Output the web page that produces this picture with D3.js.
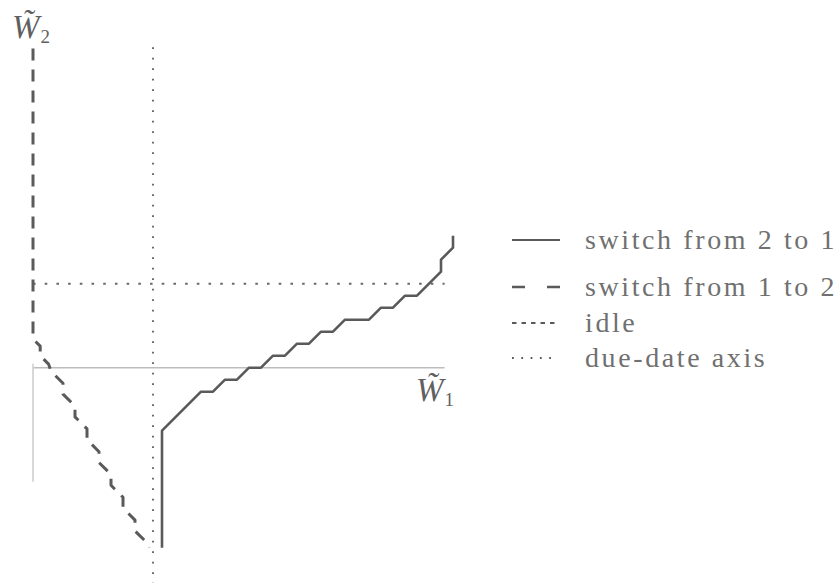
<!DOCTYPE html>
<html>
<head>
<meta charset="utf-8">
<script src="https://cdn.jsdelivr.net/npm/d3@7"></script>
<style>
  html, body { margin: 0; padding: 0; background: #ffffff; }
  svg { display: block; }
</style>
</head>
<body>
<svg id="chart" width="838" height="583"></svg>
<script>
// Switching curves in the (W1, W2) workload plane.

// "switch from 2 to 1" boundary (solid staircase)
const switch21W1 = [10.75, 10.75, 14, 15, 16, 17, 18, 19, 20, 21, 22, 23, 24, 25, 26, 28, 29, 30, 31, 32, 34, 34, 35, 35];
const switch21W2 = [-15, -5.25, -2, -2, -1, -1, 0, 0, 1, 1, 2, 2, 3, 3, 4, 4, 5, 5, 6, 6, 8, 9, 10, 11];

// "switch from 1 to 2" boundary (dashed staircase)
const switch12W1 = [0, 0, 0.6, 0.6, 1.3, 1.5, 2.5, 2.5, 3.5, 3.5, 4.5, 4.5, 5.5, 5.5, 6.5, 6.5, 7.5, 7.5, 8.5, 8.5, 9.5, 9.7];
const switch12W2 = [26.6, 2.4, 1.8, 1.0, 0.3, -0.3, -1.3, -2.2, -3.2, -4.1, -5.1, -6.0, -7.0, -7.9, -8.9, -9.8, -10.8, -11.7, -12.7, -13.6, -14.6, -15.0];

// idle level (horizontal) and due-date axis position (vertical)
const idleW2 = 7;
const idleW1Range = [0, 34.3];
const dueDateW1 = 10;
const dueDateW2Range = [-18, 26.7];

// workload axes
const axisW1Range = [0, 34.3];
const axisW2Below = [0, -9.5];

// legend entries
const legendLabels = ["switch from 2 to 1", "switch from 1 to 2", "idle", "due-date axis"];
const legendStyles = ["solid", "dashed", "idle", "due"];

const svg = d3.select("#chart");
const ink = "#5a5a5a";

const x = d3.scaleLinear().domain([0, 34]).range([33, 33 + 34 * 12]);
const y = d3.scaleLinear().domain([0, 27]).range([367.7, 367.7 - 27 * 12]);

const line = d3.line().x(d => x(d[0])).y(d => y(d[1]));

// faint axes
svg.append("line")
  .attr("x1", x(axisW1Range[0])).attr("x2", x(axisW1Range[1]))
  .attr("y1", y(0)).attr("y2", y(0))
  .attr("stroke", "#bdbdbd").attr("stroke-width", 1.6);
svg.append("line")
  .attr("x1", x(0)).attr("x2", x(0))
  .attr("y1", y(axisW2Below[0]) - 4).attr("y2", y(axisW2Below[1]))
  .attr("stroke", "#cfcfcf").attr("stroke-width", 1.6);

// due-date axis
svg.append("line")
  .attr("x1", x(dueDateW1)).attr("x2", x(dueDateW1))
  .attr("y1", y(dueDateW2Range[1])).attr("y2", y(dueDateW2Range[0]))
  .attr("stroke", "#6a6a6a").attr("stroke-width", 2)
  .attr("stroke-dasharray", "1.8 8.7");

// idle line
svg.append("line")
  .attr("x1", x(idleW1Range[0])).attr("x2", x(idleW1Range[1]))
  .attr("y1", y(idleW2)).attr("y2", y(idleW2))
  .attr("stroke", "#6a6a6a").attr("stroke-width", 2)
  .attr("stroke-dasharray", "2.6 9.1");

// switch from 1 to 2
svg.append("path")
  .datum(switch12W1.map((v, i) => [v, switch12W2[i]]))
  .attr("d", line)
  .attr("fill", "none").attr("stroke", ink).attr("stroke-width", 3)
  .attr("stroke-linejoin", "round")
  .attr("stroke-dasharray", "12 9");

// switch from 2 to 1
svg.append("path")
  .datum(switch21W1.map((v, i) => [v, switch21W2[i]]))
  .attr("d", line)
  .attr("fill", "none").attr("stroke", ink).attr("stroke-width", 2.6)
  .attr("stroke-linejoin", "round");

// axis labels: W with tilde and a subscript index
function axisLabel(px, py, sub) {
  const t = svg.append("text")
    .attr("x", px).attr("y", py)
    .attr("fill", "#606060")
    .attr("font-family", "Liberation Serif, serif");
  t.append("tspan").attr("font-size", 33).attr("font-style", "italic").text("W\u0303");
  t.append("tspan").attr("font-size", 19).attr("dy", 5).attr("dx", 1).text(sub);
}
axisLabel(12, 38, "2");
axisLabel(416, 401, "1");

// legend
const legX0 = 512, textX = 585;
const rowY = [240, 287, 323, 358];
const dashFor = { solid: null, dashed: "13 22", idle: "4.5 5", due: "1.8 7.5" };
const widthFor = { solid: 2.2, dashed: 2.6, idle: 1.8, due: 2 };
const endFor = { solid: 560, dashed: 560, idle: 555, due: 555 };

const leg = svg.append("g");
legendLabels.forEach((lab, i) => {
  const st = legendStyles[i];
  const ln = leg.append("line")
    .attr("x1", legX0).attr("x2", endFor[st])
    .attr("y1", rowY[i]).attr("y2", rowY[i])
    .attr("stroke", ink).attr("stroke-width", widthFor[st]);
  if (dashFor[st]) ln.attr("stroke-dasharray", dashFor[st]);
  leg.append("text")
    .attr("x", textX).attr("y", rowY[i] + 8.5)
    .attr("font-family", "Liberation Serif, serif")
    .attr("font-size", 28)
    .attr("letter-spacing", 2.6)
    .attr("fill", "#707070")
    .text(lab);
});
</script>
</body>
</html>
